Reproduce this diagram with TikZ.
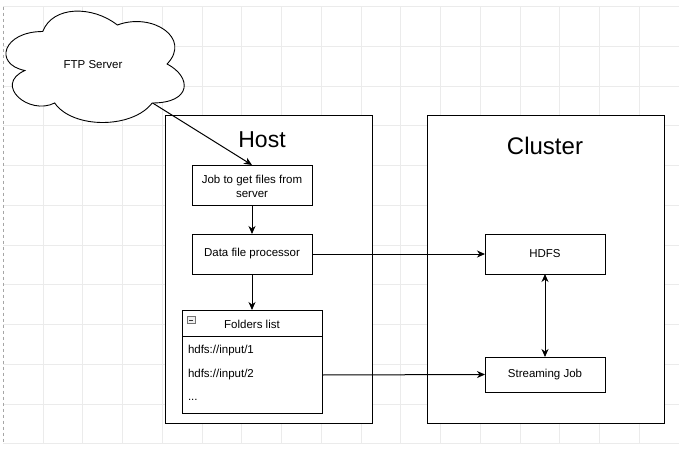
\documentclass[tikz,border=0pt]{standalone}
\usepackage{fontspec}
\setmainfont{Liberation Sans}
\usetikzlibrary{arrows.meta}
\tikzset{
  box/.style={draw=black, fill=white, line width=1pt, inner sep=0pt, outer sep=0pt, font=\fontsize{11.5}{13.5}\selectfont, align=center},
  container/.style={draw=black, fill=white, line width=1pt, inner sep=0pt, outer sep=0pt},
  title/.style={font=\fontsize{23}{26}\selectfont, inner sep=0pt},
  txt/.style={font=\fontsize{11.5}{13.5}\selectfont, inner sep=0pt},
  row/.style={font=\fontsize{11.5}{13.5}\selectfont, anchor=west, text width=128pt, align=left, inner xsep=6pt, inner ysep=0pt, outer sep=0pt, minimum height=20pt},
  arr/.style={draw=black, line width=1pt, -{Stealth[length=8pt,width=7pt,inset=2.5pt]}},
  biarr/.style={draw=black, line width=1pt, {Stealth[length=8pt,width=7pt,inset=2.5pt]}-{Stealth[length=8pt,width=7pt,inset=2.5pt]}},
  gridline/.style={draw=black!8, line width=0.8pt}
}
\begin{document}
\begin{tikzpicture}[x=1pt, y=-1pt]
\useasboundingbox[fill=white] (0,0) rectangle (686,450);
% grid
\foreach \k in {1,...,16} { \draw[gridline] ({3.25+39.75*\k},6.5) -- ({3.25+39.75*\k},443.75); }
\foreach \k in {0,...,11} { \draw[gridline] (3.3,{6.5+39.75*\k}) -- (679,{6.5+39.75*\k}); }
\draw[black!35, dashed, line width=0.8pt] (3.3,6.5) -- (3.3,443.75);

% containers
\node[container, minimum width=207pt, minimum height=308pt] (host) at (268.5,269) {};
\node[title] (hosttitle) at (262,140) {Host};
\node[container, minimum width=237pt, minimum height=308pt] (cluster) at (545.5,269) {};
\node[title, font=\fontsize{24}{27}\selectfont] (clustertitle) at (545,146) {Cluster};

% cloud
\draw[black, line width=0.9pt, fill=white]
  (42.75,31.5) .. controls (2.95,31.5) and (-7,64) .. (24.84,70.5)
  .. controls (-7,84.8) and (28.82,116) .. (54.69,103)
  .. controls (72.6,129) and (132.3,129) .. (152.2,103)
  .. controls (192,103) and (192,77) .. (167.1,64)
  .. controls (192,38) and (152.2,12) .. (117.4,25)
  .. controls (92.5,5.5) and (52.7,5.5) .. (42.75,31.5) -- cycle;
\node[txt] (ftp) at (93,65) {FTP Server};
\coordinate (ftpedge) at (152.6,103);

% host nodes
\node[box, minimum width=120pt, minimum height=40pt] (job) at (252,185) {};
\node[txt, align=center, font=\fontsize{11.5}{13.4}\selectfont] (jobtext) at (252,186.5) {Job to get files from\\server};
\node[box, minimum width=120pt, minimum height=40pt] (data) at (252,254) {\raisebox{-1.2pt}{Data file processor}};

% folders list
\node[container, minimum width=140pt, minimum height=103pt] (folders) at (252,361.5) {};
\draw[black, line width=1pt] (182,336) -- (322,336);
\node[draw=black!55, fill=black!6, line width=0.6pt, minimum width=8pt, minimum height=7pt, inner sep=0pt] (icon) at (191,320) {};
\draw[black!80, line width=0.8pt] ([xshift=-2pt]icon.center) -- ([xshift=2pt]icon.center);
\node[txt] (fhead) at (252,324) {Folders list};
\node[row] (item1) at (182,351) {hdfs://input/1};
\node[row] (item2) at (182,375) {\raisebox{-1pt}{hdfs://input/2}};
\node[row] (item3) at (182,400) {...};

% cluster nodes
\node[box, minimum width=120pt, minimum height=40pt] (hdfs) at (545,254) {\raisebox{-1.2pt}{HDFS}};
\node[box, minimum width=120pt, minimum height=35pt] (stream) at (545,374.5) {\raisebox{-1.2pt}{Streaming Job}};

% connectors
\draw[arr] (ftpedge) -- (job.north);
\draw[arr] (job.south) -- (data.north);
\draw[arr] (data.south) -- (folders.north);
\draw[arr] (data.east) -- (hdfs.west);
\draw[arr] (item2.east) -- (stream.west);
\draw[biarr] (hdfs.south) -- (stream.north);
\end{tikzpicture}
\end{document}
